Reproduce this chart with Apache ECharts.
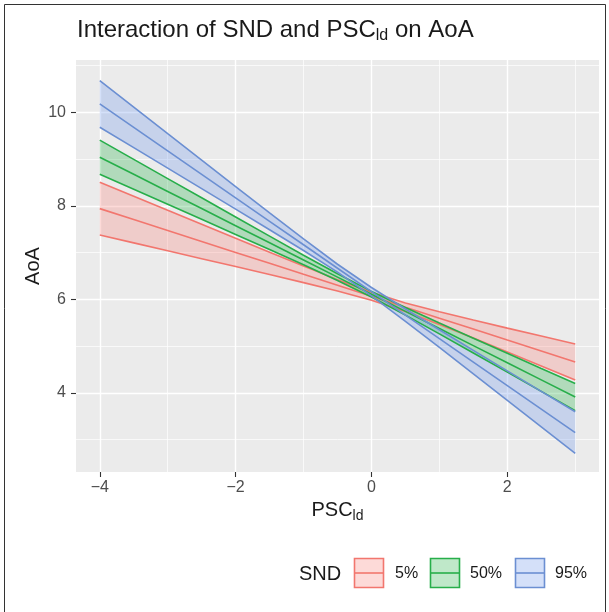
<!DOCTYPE html>
<html><head><meta charset="utf-8">
<script src="https://cdn.jsdelivr.net/npm/echarts@6/dist/echarts.min.js"></script>
<style>html,body{margin:0;padding:0;background:#fff}#c{width:609px;height:612px}</style>
</head><body><div id="c"></div>
<script>
// PSC_ld values at which predictions were read
const xValues = [-4, -3.5, -3, -2.5, -2, -1.5, -1, -0.5, 0, 0.5, 1, 1.5, 2, 2.5, 3];

// SND = 5%
const snd5Fit   = [7.94, 7.706, 7.471, 7.237, 7.003, 6.769, 6.534, 6.300, 6.066, 5.831, 5.597, 5.363, 5.128, 4.894, 4.66];
const snd5Lower = [7.375, 7.207, 7.038, 6.869, 6.700, 6.530, 6.357, 6.179, 5.982, 5.741, 5.462, 5.170, 4.872, 4.574, 4.275];
const snd5Upper = [8.505, 8.205, 7.904, 7.605, 7.306, 7.008, 6.711, 6.421, 6.150, 5.922, 5.732, 5.556, 5.384, 5.214, 5.045];

// SND = 50%
const snd50Fit   = [9.04, 8.674, 8.307, 7.941, 7.574, 7.208, 6.841, 6.475, 6.108, 5.742, 5.376, 5.009, 4.643, 4.276, 3.91];
const snd50Lower = [8.675, 8.354, 8.032, 7.711, 7.388, 7.065, 6.738, 6.404, 6.048, 5.661, 5.260, 4.851, 4.442, 4.031, 3.62];
const snd50Upper = [9.405, 8.994, 8.582, 8.171, 7.760, 7.351, 6.944, 6.546, 6.169, 5.823, 5.492, 5.167, 4.844, 4.521, 4.20];

// SND = 95%
const snd95Fit   = [10.18, 9.678, 9.176, 8.673, 8.171, 7.669, 7.167, 6.665, 6.163, 5.661, 5.159, 4.657, 4.154, 3.652, 3.15];
const snd95Lower = [9.680, 9.244, 8.807, 8.368, 7.930, 7.489, 7.043, 6.580, 6.074, 5.529, 4.970, 4.406, 3.839, 3.272, 2.705];
const snd95Upper = [10.680, 10.113, 9.545, 8.978, 8.412, 7.849, 7.291, 6.750, 6.252, 5.793, 5.348, 4.908, 4.469, 4.032, 3.595];

const groupNames = ['5%', '50%', '95%'];
const xTicks = [-4, -2, 0, 2];
const xMinorTicks = [-3, -1, 1, 3];
const yTicks = [4, 6, 8, 10];
const yMinorTicks = [3, 5, 7, 9, 11];

const lineColors = ['#F2766E', '#27AE4A', '#6B8FD2'];
const fillColors = ['rgba(248,140,135,0.32)', 'rgba(60,185,90,0.33)', 'rgba(120,160,235,0.32)'];

const groups = [
  {name: groupNames[0], fit: snd5Fit, lower: snd5Lower, upper: snd5Upper},
  {name: groupNames[1], fit: snd50Fit, lower: snd50Lower, upper: snd50Upper},
  {name: groupNames[2], fit: snd95Fit, lower: snd95Lower, upper: snd95Upper}
];

const FONT = 'Liberation Sans, Arial, sans-serif';
const fmt = v => (v < 0 ? '\u2212' + Math.abs(v) : String(v));

const series = [];
groups.forEach((g, gi) => {
  series.push({
    type: 'custom',
    name: g.name + ' band',
    xAxisIndex: 0, yAxisIndex: 0,
    data: xValues.map((x, i) => [x, g.lower[i], g.upper[i]]),
    encode: {x: 0, y: [1, 2]},
    z: 2,
    silent: true,
    renderItem: function (params, api) {
      if (params.dataIndex !== 0) return null;
      const pts = [];
      for (let i = 0; i < xValues.length; i++) pts.push(api.coord([xValues[i], g.upper[i]]));
      for (let i = xValues.length - 1; i >= 0; i--) pts.push(api.coord([xValues[i], g.lower[i]]));
      return {type: 'polygon', shape: {points: pts}, style: {fill: fillColors[gi], stroke: null}};
    }
  });
});
groups.forEach((g, gi) => {
  [g.lower, g.fit, g.upper].forEach((arr, k) => {
    series.push({
      type: 'line',
      name: g.name + ['lo', 'fit', 'hi'][k],
      xAxisIndex: 0, yAxisIndex: 0,
      data: xValues.map((x, i) => [x, arr[i]]),
      showSymbol: false,
      symbol: 'none',
      silent: true,
      z: 3,
      lineStyle: {color: lineColors[gi], width: 1.6},
      animation: false
    });
  });
});

const chart = echarts.init(document.getElementById('c'), null, {renderer: 'canvas'});

const legendKeys = [];
const keyX = [354, 430, 515];
const labelX = [395, 470, 555];
groups.forEach((g, gi) => {
  legendKeys.push({
    type: 'rect', shape: {x: keyX[gi] + 0.5, y: 558.5, width: 29, height: 29},
    style: {fill: fillColors[gi], stroke: lineColors[gi], lineWidth: 1.6}
  });
  legendKeys.push({
    type: 'line', shape: {x1: keyX[gi] + 1, y1: 573, x2: keyX[gi] + 29, y2: 573},
    style: {stroke: lineColors[gi], lineWidth: 1.6}
  });
  legendKeys.push({
    type: 'text', x: labelX[gi], y: 574,
    style: {text: g.name, font: '16px ' + FONT, fill: '#1A1A1A', textVerticalAlign: 'middle'}
  });
});

chart.setOption({
  animation: false,
  backgroundColor: '#fff',
  textStyle: {fontFamily: FONT},
  title: {
    text: 'Interaction of SND and PSC{sub|ld} on AoA',
    left: 72, top: 11,
    textStyle: {
      fontFamily: FONT, fontSize: 24, fontWeight: 'normal', color: '#1A1A1A',
      rich: {sub: {fontFamily: FONT, fontSize: 16, color: '#1A1A1A', padding: [12, 0, 0, 0]}}
    }
  },
  grid: {left: 76, right: 10, top: 60, bottom: 140, show: true, backgroundColor: '#EBEBEB', borderWidth: 0, containLabel: false},
  xAxis: [{
    type: 'value', min: -4.35, max: 3.35,
    name: 'PSC{sub|ld}', nameLocation: 'middle', nameGap: 25,
    nameTextStyle: {fontFamily: FONT, fontSize: 20, color: '#1A1A1A',
      rich: {sub: {fontFamily: FONT, fontSize: 14, color: '#1A1A1A', padding: [10, 0, 0, 0]}}},
    axisLine: {show: false, onZero: false},
    axisTick: {show: true, length: 5, lineStyle: {color: '#333', width: 1.1}, customValues: xTicks},
    axisLabel: {customValues: xTicks, color: '#4D4D4D', fontSize: 16, margin: 8, formatter: fmt, fontFamily: FONT},
    splitLine: {show: true, lineStyle: {color: '#fff', width: 1.4}}
  }, {
    type: 'value', min: -4.35, max: 3.35, position: 'top',
    axisLine: {show: false, onZero: false},
    axisTick: {show: false, customValues: xMinorTicks},
    axisLabel: {show: false, customValues: xMinorTicks},
    splitLine: {show: true, lineStyle: {color: '#fff', width: 0.7}}
  }],
  yAxis: [{
    type: 'value', min: 2.306, max: 11.119,
    name: 'AoA', nameLocation: 'middle', nameGap: 33, nameRotate: 90, nameMoveOverlap: false,
    nameTextStyle: {fontFamily: FONT, fontSize: 20, color: '#1A1A1A'},
    axisLine: {show: false, onZero: false},
    axisTick: {show: true, length: 5, lineStyle: {color: '#333', width: 1.1}, customValues: yTicks},
    axisLabel: {customValues: yTicks, color: '#4D4D4D', fontSize: 16, margin: 10, formatter: fmt, fontFamily: FONT},
    splitLine: {show: true, lineStyle: {color: '#fff', width: 1.4}}
  }, {
    type: 'value', min: 2.306, max: 11.119, position: 'right',
    axisLine: {show: false, onZero: false},
    axisTick: {show: false, customValues: yMinorTicks},
    axisLabel: {show: false, customValues: yMinorTicks},
    splitLine: {show: true, lineStyle: {color: '#fff', width: 0.7}}
  }],
  series: series,
  graphic: [
    {type: 'rect', shape: {x: 4.5, y: 4.5, width: 601, height: 640}, style: {fill: null, stroke: '#333', lineWidth: 1}, silent: true},
    {type: 'text', x: 299, y: 574, style: {text: 'SND', font: '20px ' + FONT, fill: '#1A1A1A', textVerticalAlign: 'middle'}}
  ].concat(legendKeys)
});
</script>
</body></html>
